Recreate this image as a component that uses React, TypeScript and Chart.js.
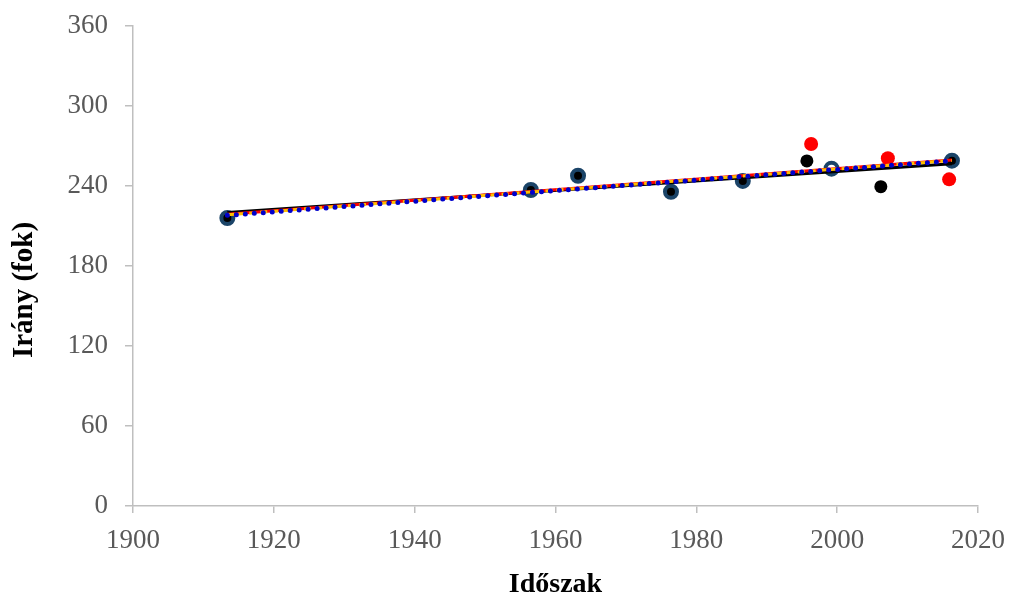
import React, { useEffect, useRef } from "react";
import { Chart, registerables } from "chart.js";

Chart.register(...registerables);

// Shared observation years (all three series)
const sharedYears = [1913.4, 1956.5, 1963.2, 1976.4, 1986.6];
const sharedValues = [216, 237, 247.7, 235.7, 243.8];

// Black series extra points
const blackYears = [1995.7, 2006.2, 2016.3];
const blackValues = [258.8, 239.5, 259];

// Red series extra points
const redYears = [1996.3, 2007.2, 2015.9];
const redValues = [271.5, 260.8, 245];

// Blue ring series extra points
const blueYears = [1999.2, 2016.3];
const blueValues = [253, 259];

// Trend line endpoints
const trendYears = [1913.4, 2016.3];
const blackTrend = [220.2, 256.7];
const redTrend = [218.8, 259.5];
const orangeTrend = [218.4, 259.2];
const blueTrend = [218, 258.9];

const xTicks = [1900, 1920, 1940, 1960, 1980, 2000, 2020];
const yTicks = [0, 60, 120, 180, 240, 300, 360];

const xTitle = "Időszak";
const yTitle = "Irány (fok)";

const toPts = (xs: number[], ys: number[]) => xs.map((x, i) => ({ x, y: ys[i] }));

export default function App() {
  const ref = useRef<HTMLCanvasElement | null>(null);
  useEffect(() => {
    if (!ref.current) return;
    const serif = "'Liberation Serif', 'Times New Roman', serif";
    const yTitlePlugin = {
      id: "yTitlePlugin",
      afterDraw(chart: any) {
        const ctx = chart.ctx;
        ctx.save();
        ctx.translate(25, 290);
        ctx.rotate(-Math.PI / 2);
        ctx.textAlign = "center";
        ctx.textBaseline = "middle";
        ctx.fillStyle = "#000000";
        ctx.font = `bold 29px ${serif}`;
        ctx.fillText(yTitle, 0, 0);
        ctx.restore();
      },
    };
    const chart = new Chart(ref.current, {
      type: "scatter",
      plugins: [yTitlePlugin],
      data: {
        datasets: [
          {
            label: "Kék trend",
            data: toPts(trendYears, blueTrend),
            showLine: true,
            pointRadius: 0,
            borderColor: "#0000CC",
            borderWidth: 5,
            borderDash: [0, 9],
            borderCapStyle: "round",
            order: 1,
          },
          {
            label: "Narancs trend",
            data: toPts(trendYears, orangeTrend),
            showLine: true,
            pointRadius: 0,
            borderColor: "#FFC000",
            borderWidth: 3,
            borderDash: [7, 4],
            order: 2,
          },
          {
            label: "Piros trend",
            data: toPts(trendYears, redTrend),
            showLine: true,
            pointRadius: 0,
            borderColor: "#FF0000",
            borderWidth: 3,
            order: 3,
          },
          {
            label: "Fekete trend",
            data: toPts(trendYears, blackTrend),
            showLine: true,
            pointRadius: 0,
            borderColor: "#000000",
            borderWidth: 3,
            order: 4,
          },
          {
            label: "Kék",
            data: toPts([...sharedYears, ...blueYears], [...sharedValues, ...blueValues]),
            pointRadius: 6,
            pointBorderWidth: 4,
            borderColor: "#1B4468",
            backgroundColor: "rgba(255,255,255,0)",
            order: 5,
          },
          {
            label: "Fekete",
            data: toPts([...sharedYears, ...blackYears], [...sharedValues, ...blackValues]),
            pointRadius: 6.5,
            pointBorderWidth: 0,
            borderColor: "#000000",
            backgroundColor: "#000000",
            order: 6,
          },
          {
            label: "Piros",
            data: toPts([...sharedYears, ...redYears], [...sharedValues, ...redValues]),
            pointRadius: 7,
            pointBorderWidth: 0,
            borderColor: "#FF0000",
            backgroundColor: "#FF0000",
            order: 7,
          },
        ],
      },
      options: {
        animation: false,
        responsive: false,
        maintainAspectRatio: false,
        layout: { padding: { left: 0, right: 33, top: 26, bottom: 0 } },
        plugins: { legend: { display: false }, tooltip: { enabled: false } },
        scales: {
          x: {
            type: "linear",
            min: 1900,
            max: 2020,
            afterBuildTicks: (s: any) => {
              s.ticks = xTicks.map((v) => ({ value: v }));
            },
            afterFit: (s: any) => {
              s.height = 90;
              s.paddingLeft = 0;
              s.paddingRight = 0;
            },
            ticks: {
              color: "#595959",
              font: { family: serif, size: 27 },
              padding: 12,
              maxRotation: 0,
              callback: (v: any) => String(v),
            },
            grid: {
              drawOnChartArea: false,
              drawTicks: true,
              tickLength: 7,
              color: "#BFBFBF",
              lineWidth: 1.5,
            },
            border: { display: true, color: "#BFBFBF", width: 1.5 },
            title: {
              display: true,
              text: xTitle,
              color: "#000000",
              font: { family: serif, size: 28, weight: "bold", lineHeight: 1 },
              padding: { top: 0, bottom: -3 },
            },
          },
          y: {
            type: "linear",
            min: 0,
            max: 360,
            afterBuildTicks: (s: any) => {
              s.ticks = yTicks.map((v) => ({ value: v }));
            },
            afterFit: (s: any) => {
              s.width = 133;
              s.paddingTop = 0;
              s.paddingBottom = 0;
            },
            ticks: {
              color: "#595959",
              font: { family: serif, size: 27 },
              padding: 17,
              callback: (v: any) => String(v),
            },
            grid: {
              drawOnChartArea: false,
              drawTicks: true,
              tickLength: 8,
              color: "#BFBFBF",
              lineWidth: 1.5,
            },
            border: { display: true, color: "#BFBFBF", width: 1.5 },
            title: { display: false },
          },
        },
      },
    } as any);
    return () => chart.destroy();
  }, []);
  return (
    <div style={{ position: "absolute", left: 0, top: 0, width: 1011, height: 596, background: "#fff" }}>
      <canvas ref={ref} width={1011} height={596} />
    </div>
  );
}
